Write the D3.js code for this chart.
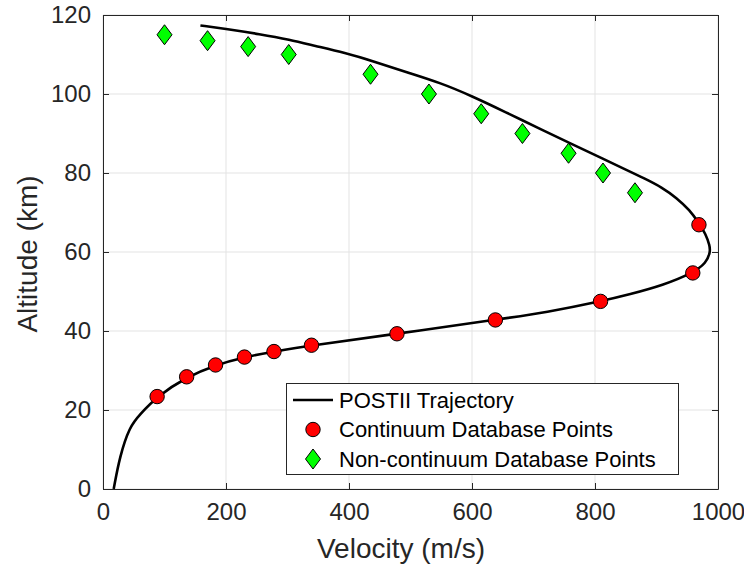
<!DOCTYPE html>
<html>
<head>
<meta charset="utf-8">
<script src="https://cdn.jsdelivr.net/npm/d3@7"></script>
<style>
  html, body { margin: 0; padding: 0; background: #ffffff; }
  svg { display: block; font-family: "Liberation Sans", Arial, Helvetica, sans-serif; }
</style>
</head>
<body>
<svg id="chart" width="744" height="565"></svg>
<script>
// ---- Data ----
const trajVelocity = [17.4, 27.2, 43.4, 59.7, 87.8, 135.6, 182.8, 229.9, 277.6, 338.9, 477.6, 638.5, 722.3, 808.8, 856.4, 910.6, 958.9, 981.1, 987.6,
                      986.5, 980.0, 968.6, 954.0, 932.8, 908.5, 880.8, 848.3, 815.8, 763.7, 710.1, 654.8, 601.1, 547.5, 493.8, 441.8, 393.0, 344.2, 303.6, 254.8, 201.1, 158.4];
const trajAltitude = [0, 8.25, 15.85, 18.8, 23.4, 28.35, 31.4, 33.4, 34.8, 36.35, 39.3, 42.85, 44.75, 47.5, 49.3, 51.6, 54.7, 57.2, 60.15,
                      61.6, 64.6, 67.4, 70.6, 73.7, 76.4, 78.6, 81.0, 83.4, 87.2, 91.2, 95.4, 99.4, 102.9, 105.5, 108.2, 110.45, 112.2, 113.75, 115.15, 116.45, 117.35];

const contVelocity = [88, 136, 183, 230, 278, 339, 478, 638, 809, 959, 969];
const contAltitude = [23.4, 28.4, 31.4, 33.4, 34.8, 36.4, 39.3, 42.8, 47.5, 54.7, 66.9];

const nonContVelocity = [100, 170, 236, 302, 435, 530, 615, 682, 757, 813, 865];
const nonContAltitude = [115, 113.5, 112, 110, 105, 100, 95, 90, 85, 80, 75];

const xTicks = [0, 200, 400, 600, 800, 1000];
const yTicks = [0, 20, 40, 60, 80, 100, 120];

const seriesNames = ["POSTII Trajectory", "Continuum Database Points", "Non-continuum Database Points"];
const xLabel = "Velocity (m/s)";
const yLabel = "Altitude (km)";

// ---- Layout ----
const svg = d3.select("#chart");
const L = 103, R = 718, T = 15, B = 489;
const x = d3.scaleLinear().domain([0, 1000]).range([L, R]);
const y = d3.scaleLinear().domain([0, 120]).range([B, T]);
const axisColor = "#262626";
const gridColor = "#e3e3e3";

// grid
const g = svg.append("g");
g.selectAll("line.vg").data(xTicks).join("line")
  .attr("x1", d => x(d)).attr("x2", d => x(d))
  .attr("y1", T).attr("y2", B)
  .attr("stroke", gridColor).attr("stroke-width", 1);
g.selectAll("line.hg").data(yTicks).join("line")
  .attr("y1", d => y(d)).attr("y2", d => y(d))
  .attr("x1", L).attr("x2", R)
  .attr("stroke", gridColor).attr("stroke-width", 1);

// axes (inward ticks on all four sides)
const tickLen = 6;
const fmt = d3.format("d");
const axB = svg.append("g").attr("transform", `translate(0,${B})`)
  .call(d3.axisBottom(x).tickValues(xTicks).tickFormat(fmt).tickSizeInner(-tickLen).tickSizeOuter(0).tickPadding(14));
const axT = svg.append("g").attr("transform", `translate(0,${T})`)
  .call(d3.axisTop(x).tickValues(xTicks).tickSizeInner(-tickLen).tickSizeOuter(0).tickFormat(""));
const axL = svg.append("g").attr("transform", `translate(${L},0)`)
  .call(d3.axisLeft(y).tickValues(yTicks).tickFormat(fmt).tickSizeInner(-tickLen).tickSizeOuter(0).tickPadding(12));
const axR = svg.append("g").attr("transform", `translate(${R},0)`)
  .call(d3.axisRight(y).tickValues(yTicks).tickSizeInner(-tickLen).tickSizeOuter(0).tickFormat(""));

[axB, axT, axL, axR].forEach(a => {
  a.select(".domain").attr("stroke", axisColor).attr("stroke-width", 1);
  a.selectAll(".tick line").attr("stroke", axisColor).attr("stroke-width", 1);
  a.selectAll(".tick text").attr("fill", axisColor)
    .style("font-size", "24px").style("font-family", "'Liberation Sans', Arial, sans-serif");
});

// trajectory line
const pts = trajVelocity.map((v, i) => [v, trajAltitude[i]]);
const line = d3.line().x(d => x(d[0])).y(d => y(d[1])).curve(d3.curveBasis);
svg.append("path").datum(pts).attr("d", line)
  .attr("fill", "none").attr("stroke", "#000").attr("stroke-width", 2.6)
  .attr("stroke-linejoin", "round");

// continuum points
const contPts = contVelocity.map((v, i) => [v, contAltitude[i]]);
svg.append("g").selectAll("circle").data(contPts).join("circle")
  .attr("cx", d => x(d[0])).attr("cy", d => y(d[1])).attr("r", 7.2)
  .attr("fill", "#ff0000").attr("stroke", "#000").attr("stroke-width", 1);

// non-continuum points (diamonds)
const diamond = (cx, cy) => `M${cx},${cy - 10}L${cx + 7.5},${cy}L${cx},${cy + 10}L${cx - 7.5},${cy}Z`;
const ncPts = nonContVelocity.map((v, i) => [v, nonContAltitude[i]]);
svg.append("g").selectAll("path").data(ncPts).join("path")
  .attr("d", d => diamond(x(d[0]), y(d[1])))
  .attr("fill", "#00ff00").attr("stroke", "#000").attr("stroke-width", 1);

// axis labels
svg.append("text").attr("x", 401).attr("y", 558)
  .attr("text-anchor", "middle").attr("fill", axisColor)
  .style("font-size", "28px").text(xLabel);
svg.append("text").attr("transform", `translate(37,254) rotate(-90)`)
  .attr("text-anchor", "middle").attr("fill", axisColor)
  .style("font-size", "28px").text(yLabel);

// legend
const lg = svg.append("g");
lg.append("rect").attr("x", 286.5).attr("y", 383.5).attr("width", 392).attr("height", 91)
  .attr("fill", "#fff").attr("stroke", axisColor).attr("stroke-width", 1);
const rowY = [400, 429.5, 459];
lg.append("line").attr("x1", 293).attr("x2", 333).attr("y1", rowY[0]).attr("y2", rowY[0])
  .attr("stroke", "#000").attr("stroke-width", 2.6);
lg.append("circle").attr("cx", 313).attr("cy", rowY[1]).attr("r", 7.2)
  .attr("fill", "#ff0000").attr("stroke", "#000").attr("stroke-width", 1);
lg.append("path").attr("d", diamond(313, rowY[2]))
  .attr("fill", "#00ff00").attr("stroke", "#000").attr("stroke-width", 1);
lg.selectAll("text").data(seriesNames).join("text")
  .attr("x", 339).attr("y", (d, i) => rowY[i]).attr("dy", "0.36em")
  .attr("fill", "#000").style("font-size", "22px").text(d => d);
</script>
</body>
</html>
